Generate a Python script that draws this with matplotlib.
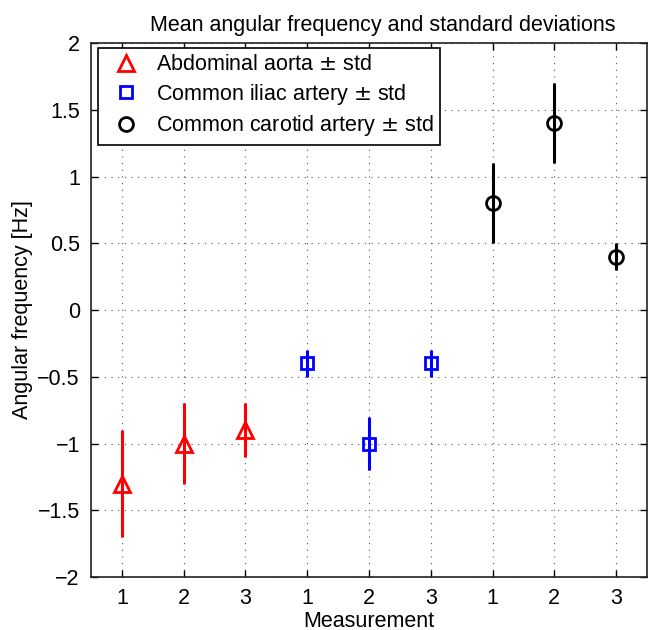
import matplotlib
matplotlib.use("Agg")
import matplotlib.pyplot as plt
from matplotlib.lines import Line2D

plt.rcParams['font.family'] = ['Liberation Sans', 'DejaVu Sans']

tick_labels = ['1', '2', '3', '1', '2', '3', '1', '2', '3']
aorta_x = [1, 2, 3]
aorta_mean = [-1.3, -1.0, -0.9]
aorta_std = [0.4, 0.3, 0.2]
iliac_x = [4, 5, 6]
iliac_mean = [-0.4, -1.0, -0.4]
iliac_std = [0.1, 0.2, 0.1]
carotid_x = [7, 8, 9]
carotid_mean = [0.8, 1.4, 0.4]
carotid_std = [0.3, 0.3, 0.1]

FS = 15.5

fig = plt.figure(figsize=(6.58, 6.30), dpi=100)
ax = fig.add_axes([0.1383, 0.0841, 0.845, 0.8476])

series = [
    (aorta_x, aorta_mean, aorta_std, 'red', '^', 11, 'Abdominal aorta $\\pm$ std'),
    (iliac_x, iliac_mean, iliac_std, 'blue', 's', 8, 'Common iliac artery $\\pm$ std'),
    (carotid_x, carotid_mean, carotid_std, 'black', 'o', 10, 'Common carotid artery $\\pm$ std'),
]
handles = []
for x, m, s, c, mk, ms, lab in series:
    ax.errorbar(x, m, yerr=s, fmt='none', ecolor=c, elinewidth=2.2, capsize=0, zorder=3)
    ax.plot(x, m, linestyle='none', marker=mk, markersize=ms, markerfacecolor='none',
            markeredgecolor=c, markeredgewidth=2, zorder=4)
    handles.append(Line2D([], [], linestyle='none', marker=mk, markersize=ms,
                          markerfacecolor='none', markeredgecolor=c, markeredgewidth=2, label=lab))

ax.set_xlim(0.5, 9.5)
ax.set_ylim(-2, 2)
ax.set_xticks(range(1, 10))
ax.set_xticklabels(tick_labels)
ax.set_yticks([-2, -1.5, -1, -0.5, 0, 0.5, 1, 1.5, 2])
ax.set_yticklabels(['\u22122', '\u22121.5', '\u22121', '\u22120.5', '0', '0.5', '1', '1.5', '2'])
ax.tick_params(direction='in', top=True, right=True, labelsize=FS, length=5, width=1)
ax.tick_params(axis='x', pad=8)
ax.tick_params(axis='y', pad=8)
ax.grid(True, linestyle=(0, (1, 5)), color='#555555', linewidth=0.8)
for sp in ax.spines.values():
    sp.set_linewidth(1.2)
    sp.set_color('#222222')

ax.set_title('Mean angular frequency and standard deviations', fontsize=FS, pad=9, x=0.525)
ax.set_xlabel('Measurement', fontsize=FS, labelpad=1)
ax.set_ylabel('Angular frequency [Hz]', fontsize=FS, labelpad=3)

leg = ax.legend(handles=handles, loc='upper left',
                bbox_to_anchor=(7 / 556, 1 - 5 / 534), borderaxespad=0,
                fontsize=FS, frameon=True, fancybox=False,
                edgecolor='black', framealpha=1, handlelength=2.0, handletextpad=0.4,
                labelspacing=0.3, borderpad=0.3)
leg.get_frame().set_linewidth(1.2)

fig.savefig('out.png', dpi=100)
